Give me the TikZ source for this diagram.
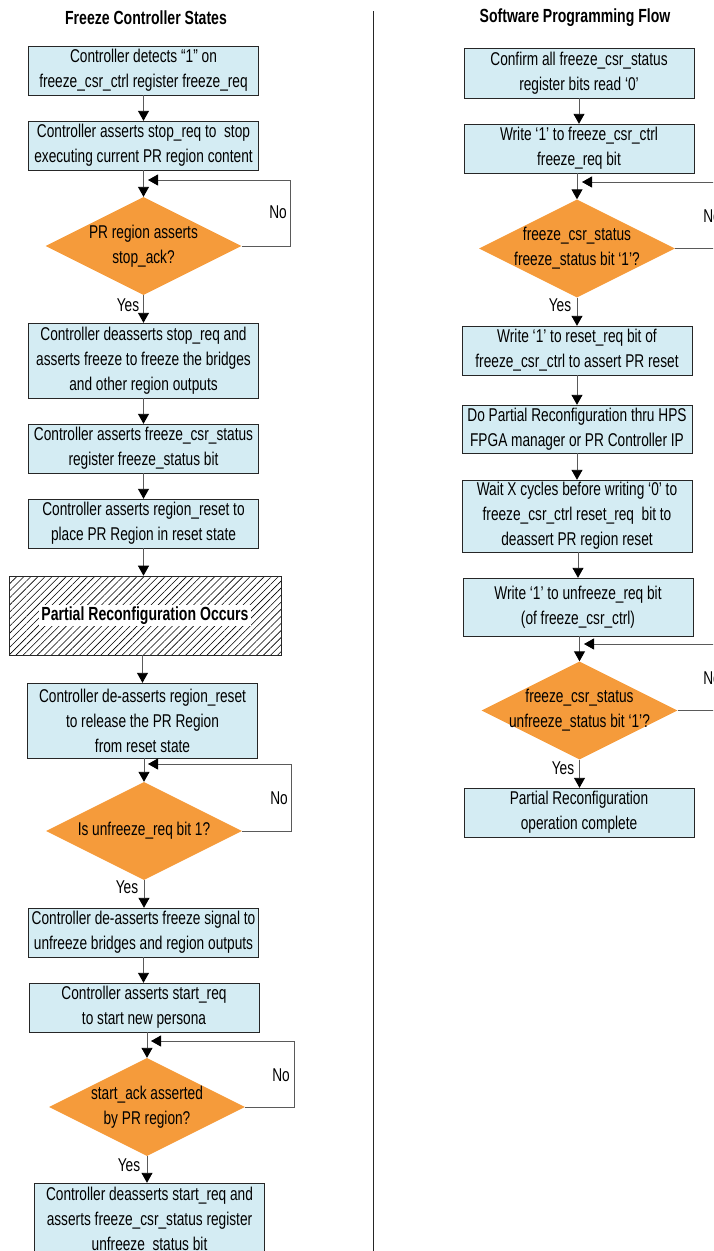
\documentclass[tikz,border=0pt]{standalone}
\usepackage{fontspec}
\setmainfont{Liberation Sans}[FakeStretch=0.74]
\usepackage{tikz}
\usetikzlibrary{arrows.meta,shapes.geometric,patterns.meta}
\definecolor{boxblue}{HTML}{D4ECF3}
\definecolor{decorange}{HTML}{F59B3B}
\definecolor{edgegray}{HTML}{5A5A5A}

\begin{document}
\begin{tikzpicture}[x=1pt, y=-1pt, every node/.style={font=\fontsize{18.5}{25}\selectfont}, box/.style={draw=black!85, fill=boxblue, align=center, minimum width=230pt, inner sep=0pt}, decision/.style={diamond, draw=none, fill=decorange, minimum width=196pt, minimum height=98pt, inner sep=0pt, label={[align=center, font=\fontsize{18.5}{25}\selectfont]center:#1}}, hatchbox/.style={draw=black!85, pattern={Lines[angle=45, distance=5pt, line width=0.6pt]}, minimum width=272pt, minimum height=79pt}, heading/.style={font=\fontsize{19}{22}\selectfont\bfseries}, flow/.style={draw=edgegray, line width=0.9pt, -{Triangle[width=11pt, length=10pt, color=black]}}, lbl/.style={inner sep=0pt}]
\useasboundingbox (0,0) rectangle (713,1251);
\clip (0,0) rectangle (713,1251);
% left column: freeze controller states
\node[heading] (tl) at (146,18) {Freeze Controller States};
\node[box, minimum height=49pt] (a1) at (143.5,70.5) {Controller detects “1” on\\freeze\_csr\_ctrl register freeze\_req};
\node[box, minimum height=49pt] (a2) at (143.5,145.5) {Controller asserts stop\_req to \ stop\\executing current PR region content};
\node[decision={PR region asserts\\stop\_ack?}] (d1) at (143.5,246) {};
\node[box, minimum height=75pt] (a3) at (143.5,360.5) {Controller deasserts stop\_req and\\asserts freeze to freeze the bridges\\and other region outputs};
\node[box, minimum height=49pt] (a4) at (143.5,448.5) {Controller asserts freeze\_csr\_status\\register freeze\_status bit};
\node[box, minimum height=49pt] (a5) at (143.5,523.5) {Controller asserts region\_reset to\\place PR Region in reset state};
\node[hatchbox] (pr) at (145,615.5) {};
\node[fill=white, inner sep=2pt, font=\fontsize{19}{22}\selectfont\bfseries] (prt) at (pr.center) {Partial Reconfiguration Occurs};
\node[box, minimum height=75pt] (a6) at (142.5,720.5) {Controller de-asserts region\_reset\\to release the PR Region\\from reset state};
\node[decision={Is unfreeze\_req bit 1?}] (d2) at (144,831) {};
\node[box, minimum height=49pt] (a7) at (143.5,932.5) {Controller de-asserts freeze signal to\\unfreeze bridges and region outputs};
\node[box, minimum height=49pt] (a8) at (144,1007.5) {Controller asserts start\_req\\to start new persona};
\node[decision={start\_ack asserted\\by PR region?}] (d3) at (147,1107) {};
\node[box, minimum height=75pt] (a9) at (149.5,1220.5) {Controller deasserts start\_req and\\asserts freeze\_csr\_status register\\unfreeze\_status bit};
\coordinate (j1) at (148,180);
\coordinate (j2) at (148,764);
\coordinate (j3) at (151,1041);
\draw[flow] (a1.south) -- (a2.north);
\draw[flow] (a2.south) -- (d1.north);
\draw[flow] (d1.east) -- (290,246) |- (j1);
\draw[flow] (d1.south) -- (a3.north);
\draw[flow] (a3.south) -- (a4.north);
\draw[flow] (a4.south) -- (a5.north);
\draw[flow] (a5.south) -- (a5.south |- pr.north);
\draw[flow] (pr.south -| a6.north) -- (a6.north);
\draw[flow] (a6.south -| d2.north) -- (d2.north);
\draw[flow] (d2.east) -- (291,831) |- (j2);
\draw[flow] (d2.south) -- (d2.south |- a7.north);
\draw[flow] (a7.south) -- (a7.south |- a8.north);
\draw[flow] (a8.south -| d3.north) -- (d3.north);
\draw[flow] (d3.east) -- (294,1107) |- (j3);
\draw[flow] (d3.south) -- (d3.south |- a9.north);
\node[lbl] (n1) at (278,212) {No};
\node[lbl] (y1) at (128,305) {Yes};
\node[lbl] (n2) at (279,798) {No};
\node[lbl] (y2) at (127,887) {Yes};
\node[lbl] (n3) at (281,1075) {No};
\node[lbl] (y3) at (129,1165) {Yes};
% divider
\draw[line width=1pt, black!85] (373,11) -- (373,1251);
% right column: software programming flow
\node[heading] (tr) at (575,18) {Software Programming Flow};
\node[box, minimum height=50pt] (b1) at (579,73) {Confirm all freeze\_csr\_status\\register bits read ‘0’};
\node[box, minimum height=49pt] (b2) at (579,148.5) {Write ‘1’ to freeze\_csr\_ctrl\\freeze\_req bit};
\node[decision={freeze\_csr\_status\\freeze\_status bit ‘1’?}] (d4) at (577,248.5) {};
\node[box, minimum height=49pt] (b3) at (577,350.5) {Write ‘1’ to reset\_req bit of\\freeze\_csr\_ctrl to assert PR reset};
\node[box, minimum height=48pt] (b4) at (577,429) {Do Partial Reconfiguration thru HPS\\FPGA manager or PR Controller IP};
\node[box, minimum height=72pt] (b5) at (577,516) {Wait X cycles before writing ‘0’ to\\freeze\_csr\_ctrl reset\_req \ bit to\\deassert PR region reset};
\node[box, minimum height=58pt] (b6) at (578,607) {Write ‘1’ to unfreeze\_req bit\\(of freeze\_csr\_ctrl)};
\node[decision={freeze\_csr\_status\\unfreeze\_status bit ‘1’?}] (d5) at (579.5,710.5) {};
\node[box, minimum height=49pt] (b7) at (579,812.5) {Partial Reconfiguration\\operation complete};
\coordinate (j4) at (582,182);
\coordinate (j5) at (584,644);
\draw[flow] (b1.south -| b2.north) -- (b2.north);
\draw[flow] (b2.south -| d4.north) -- (d4.north);
\draw[flow] (d4.east) -- (740,248.5) |- (j4);
\draw[flow] (d4.south) -- (d4.south |- b3.north);
\draw[flow] (b3.south) -- (b4.north);
\draw[flow] (b4.south) -- (b5.north);
\draw[flow] (b5.south -| b6.north) -- (b6.north);
\draw[flow] (b6.south -| d5.north) -- (d5.north);
\draw[flow] (d5.east) -- (740,710.5) |- (j5);
\draw[flow] (d5.south) -- (d5.south |- b7.north);
\node[lbl] (n4) at (712,216) {No};
\node[lbl] (y4) at (560,305) {Yes};
\node[lbl] (n5) at (712,678) {No};
\node[lbl] (y5) at (563,768) {Yes};
\end{tikzpicture}
\end{document}
